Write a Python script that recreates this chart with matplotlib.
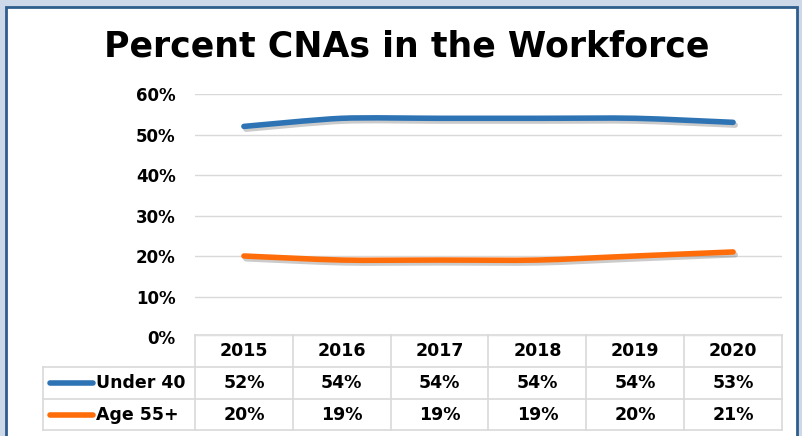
import numpy as np
import matplotlib
matplotlib.use('Agg')
import matplotlib.pyplot as plt
import matplotlib.transforms as mtransforms
import matplotlib.patheffects as pe
from matplotlib.path import Path
from matplotlib.patches import PathPatch, Rectangle
from matplotlib.lines import Line2D

# data
years = ['2015', '2016', '2017', '2018', '2019', '2020']
under_40 = [0.52, 0.54, 0.54, 0.54, 0.54, 0.53]
age_55 = [0.20, 0.19, 0.19, 0.19, 0.20, 0.21]
series_names = ['Under 40', 'Age 55+']
series_colors = ['#2E74B5', '#FF6D0A']

W, H = 803, 436
fig = plt.figure(figsize=(W / 100, H / 100), dpi=100)
fig.patch.set_facecolor('#CDD8E9')


def fx(x):
    return x / W


def fy(y):
    return 1 - y / H


# white chart area with dark frame
fig.patches.append(Rectangle((fx(6), fy(440)), fx(797) - fx(6), fy(7) - fy(440),
                             transform=fig.transFigure, facecolor='white',
                             edgecolor='#2F5D8C', linewidth=2, zorder=-5))

ax = fig.add_axes([fx(195), fy(337), fx(782) - fx(195), fy(94) - fy(337)])
ax.set_zorder(2)
ax.set_facecolor('none')
ax.set_xlim(-0.5, len(years) - 0.5)
ax.set_ylim(0, 0.6)
ax.set_yticks(np.arange(0, 0.61, 0.1))
ax.set_yticklabels([f'{int(round(v * 100))}%' for v in np.arange(0, 0.61, 0.1)],
                   fontsize=12, fontweight='bold')
ax.tick_params(axis='y', length=0, pad=14)
ax.set_xticks([])
for s in ax.spines.values():
    s.set_visible(False)
ax.grid(axis='y', color='#D9D9D9', linewidth=1)
ax.set_axisbelow(True)


def smooth_path(xs, ys):
    # Catmull-Rom style bezier through the points
    pts = np.column_stack([xs, ys]).astype(float)
    verts = [pts[0]]
    codes = [Path.MOVETO]
    n = len(pts)
    for i in range(n - 1):
        p0 = pts[i - 1] if i > 0 else pts[i]
        p1 = pts[i]
        p2 = pts[i + 1]
        p3 = pts[i + 2] if i + 2 < n else pts[i + 1]
        c1 = p1 + (p2 - p0) / 8
        c2 = p2 - (p3 - p1) / 8
        verts += [c1, c2, p2]
        codes += [Path.CURVE4] * 3
    return Path(verts, codes)


xs = np.arange(len(years))
for vals, col in zip([under_40, age_55], series_colors):
    patch = PathPatch(smooth_path(xs, vals), facecolor='none', edgecolor=col,
                      linewidth=4, capstyle='round', joinstyle='round', zorder=3)
    patch.set_path_effects([pe.SimpleLineShadow(offset=(1.5, -2), shadow_color='#555555', alpha=0.3),
                            pe.Normal()])
    ax.add_patch(patch)

ax.set_title('Percent CNAs in the Workforce', fontsize=25, fontweight='bold',
             x=(fx(407) - fx(195)) / (fx(782) - fx(195)), pad=27)

# data table below the plot
grid_col = '#D9D9D9'
trans = mtransforms.blended_transform_factory(ax.transData, fig.transFigure)
row_y = [335, 367, 399, 430]

# horizontal lines
fig.add_artist(Line2D([fx(195), fx(782)], [fy(row_y[0])] * 2, transform=fig.transFigure,
                      color=grid_col, linewidth=1.2))
for yy in row_y[1:]:
    fig.add_artist(Line2D([fx(43), fx(782)], [fy(yy)] * 2, transform=fig.transFigure,
                          color=grid_col, linewidth=1.2))
# vertical lines
for i in range(len(years) + 1):
    fig.add_artist(Line2D([i - 0.5, i - 0.5], [fy(row_y[0]), fy(row_y[3])], transform=trans,
                          color=grid_col, linewidth=1.2))
fig.add_artist(Line2D([fx(43), fx(43)], [fy(row_y[1]), fy(row_y[3])], transform=fig.transFigure,
                      color=grid_col, linewidth=1.2))

for i, yr in enumerate(years):
    fig.text(i, fy(351), yr, transform=trans, ha='center', va='center',
             fontsize=12.5, fontweight='bold')
for r, (vals, name, col) in enumerate(zip([under_40, age_55], series_names, series_colors)):
    yc = fy((row_y[r + 1] + row_y[r + 2]) / 2)
    for i, v in enumerate(vals):
        fig.text(i, yc, f'{int(round(v * 100))}%', transform=trans, ha='center', va='center',
                 fontsize=12.5, fontweight='bold')
    fig.add_artist(Line2D([fx(50), fx(93)], [yc, yc], transform=fig.transFigure,
                          color=col, linewidth=4, solid_capstyle='round'))
    fig.text(fx(96), yc, name, ha='left', va='center', fontsize=12.5, fontweight='bold')

fig.savefig('out.png', dpi=100)
